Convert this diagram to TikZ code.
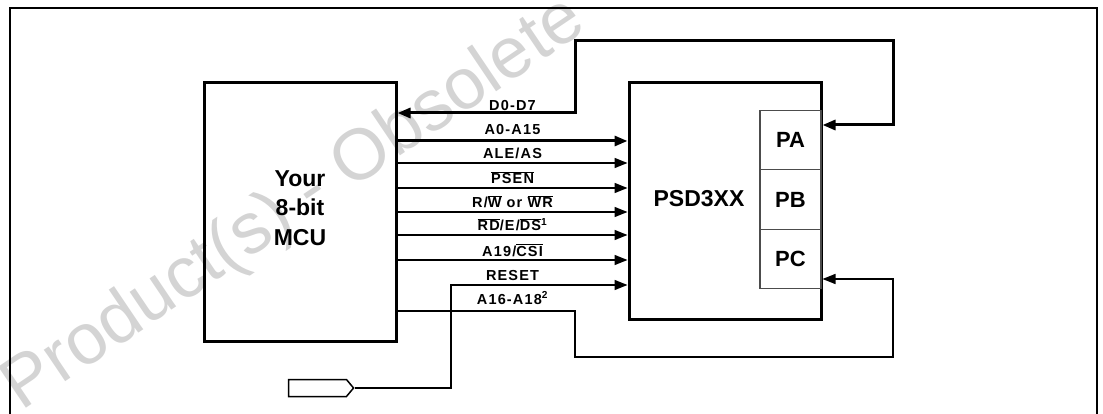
\documentclass[tikz,border=0pt]{standalone}
\usepackage{fontspec}
\setmainfont{Liberation Sans}
\usetikzlibrary{arrows.meta,shapes.symbols}
\begin{document}
\begin{tikzpicture}[x=1pt,y=-1pt,
  box/.style={draw,line width=3pt,inner sep=0pt},
  port/.style={draw=black!70,line width=1.3pt,minimum width=61pt,minimum height=59.5pt,inner sep=0pt,font=\bfseries\fontsize{22}{26}\selectfont},
  bus/.style={line width=3pt},
  sig/.style={line width=1.5pt},
  tipA/.style={-{Triangle[length=13pt,width=10pt]}},
  tipB/.style={{Triangle[length=13pt,width=10pt]}-{Triangle[length=13pt,width=10pt]}},
  lbl/.style={font=\bfseries\fontsize{14.5}{16}\selectfont\addfontfeature{LetterSpace=8},inner sep=0pt,anchor=base},
  big/.style={font=\bfseries\fontsize{23}{29.5}\selectfont,align=center,inner sep=0pt},
  wmark/.style={text=black!17,font=\fontsize{72}{72}\selectfont,inner sep=0pt}
]
\useasboundingbox (0,0) rectangle (1103,414);
% watermark
\node[wmark,rotate=34] (wm) at (295,205) {Product(s) - Obsolete};
% frame
\draw[line width=2.2pt] (10,420) -- (10,8) -- (1097,8) -- (1097,420);
% blocks
\node[box,minimum width=192pt,minimum height=258pt] (mcu) at (300,212) {};
\node[big] (mcutext) at (300,208) {Your\\8-bit\\MCU};
\node[box,minimum width=192pt,minimum height=236pt] (psd) at (725,201) {};
\node[big] (psdtext) at (699,199) {PSD3XX};
\node[port] (pa) at (790.5,140) {PA};
\node[port] (pb) at (790.5,199.5) {PB};
\node[port] (pc) at (790.5,259) {PC};
\node[draw,line width=1.5pt,shape=signal,signal to=east,signal pointer angle=100,minimum width=65pt,minimum height=17pt,inner sep=0pt] (in) at (317.5,388) {};
% connectors
\draw[bus,tipB] (mcu.east |- 0,113) -| (575,41) -| (893,125) -- (psd.east |- 0,125);
\draw[bus,tipA] (mcu.east |- 0,141) -- (psd.west |- 0,141);
\draw[sig,tipA] (mcu.east |- 0,163) -- (psd.west |- 0,163);
\draw[sig,tipA] (mcu.east |- 0,188) -- (psd.west |- 0,188);
\draw[sig,tipA] (mcu.east |- 0,212) -- (psd.west |- 0,212);
\draw[sig,tipA] (mcu.east |- 0,235) -- (psd.west |- 0,235);
\draw[sig,tipA] (mcu.east |- 0,260) -- (psd.west |- 0,260);
\draw[sig,tipA] (in.east) -| (451,285) -- (psd.west |- 0,285);
\draw[sig,tipA] (mcu.east |- 0,311) -| (575,357) -| (893,279) -- (psd.east |- 0,279);
% labels
\node[lbl] (l1) at (512.5,111) {D0-D7};
\node[lbl] (l2) at (512.5,135) {A0-A15};
\node[lbl] (l3) at (512.5,159) {ALE/AS};
\node[lbl] (l4) at (512.5,184) {$\overline{\mbox{PSEN}}$};
\node[lbl] (l5) at (512.5,208) {R/$\overline{\mbox{W}}$ or $\overline{\mbox{WR}}$};
\node[lbl] (l6) at (512.5,231) {$\overline{\mbox{RD}}$/E/$\overline{\mbox{DS}}$\textsuperscript{1}};
\node[lbl] (l7) at (512.5,256) {A19/$\overline{\mbox{CSI}}$};
\node[lbl] (l8) at (512.5,280) {RESET};
\node[lbl] (l9) at (512.5,304) {A16-A18\textsuperscript{2}};
\end{tikzpicture}
\end{document}
